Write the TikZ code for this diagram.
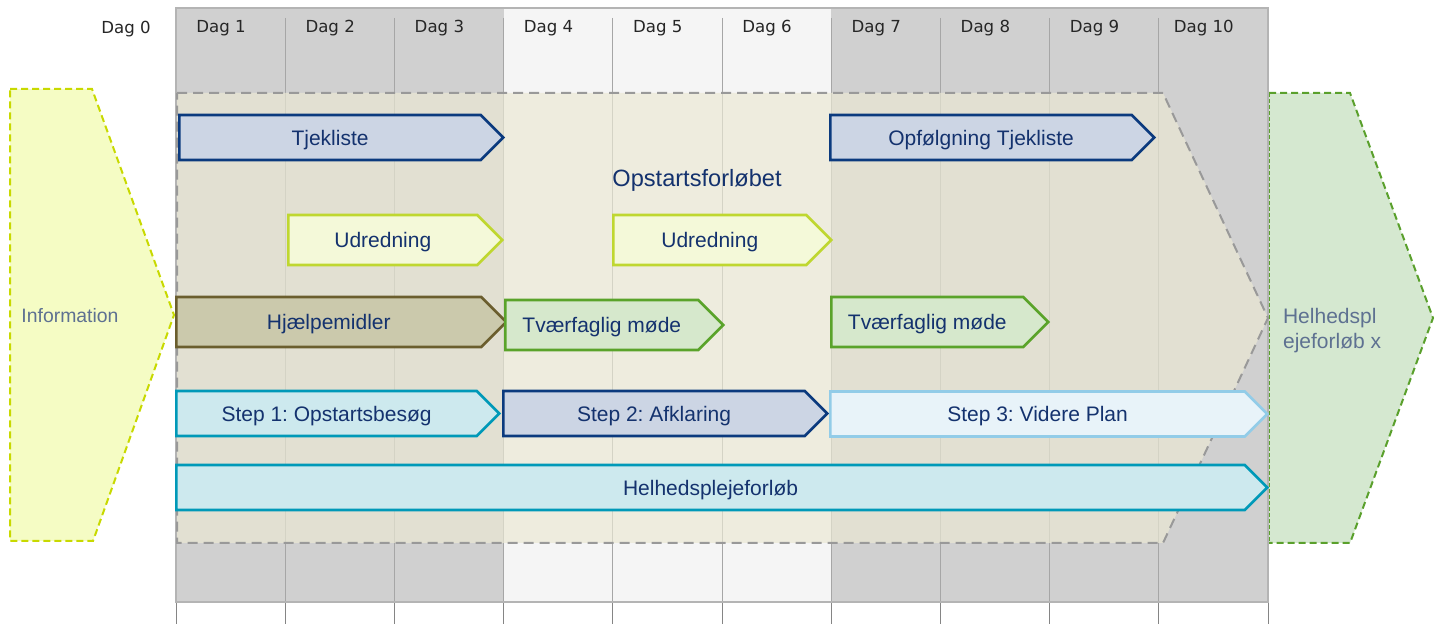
\documentclass[tikz,border=0pt]{standalone}
\usepackage{fontspec}
\setmainfont{Liberation Sans}
\newfontfamily\dagfont{DejaVu Sans}
\usetikzlibrary{shapes.symbols}
\frenchspacing

\definecolor{graakol}{HTML}{D0D0D0}
\definecolor{lyskol}{HTML}{F5F5F5}
\definecolor{ramme}{HTML}{B4B4B4}
\definecolor{skille}{HTML}{A6A6A6}
\definecolor{beige}{HTML}{EBE9D4}
\definecolor{streg}{HTML}{999999}
\definecolor{tekst}{HTML}{14326E}
\definecolor{graatekst}{HTML}{5E7191}
\definecolor{navy}{HTML}{0B3A7E}
\definecolor{navyfill}{HTML}{CCD5E4}
\definecolor{lime}{HTML}{BFD730}
\definecolor{limefill}{HTML}{F4F9D9}
\definecolor{oliven}{HTML}{6B5E2E}
\definecolor{olivenfill}{HTML}{CBC9AC}
\definecolor{groen}{HTML}{5AA32A}
\definecolor{groenfill}{HTML}{D6E8CC}
\definecolor{petrol}{HTML}{0099B8}
\definecolor{petrolfill}{HTML}{CDE9EE}
\definecolor{lysblaa}{HTML}{92CCE8}
\definecolor{lysblaafill}{HTML}{E8F3F9}
\definecolor{infogul}{HTML}{C8D900}
\definecolor{infofill}{HTML}{F5FCC4}
\definecolor{helgroen}{HTML}{5AA02C}
\definecolor{helfill}{HTML}{D5E8D0}

\tikzset{
  pil/.style={signal, signal to=east, signal pointer angle=90, draw,
    line width=1.3pt, inner sep=0pt, anchor=west, text=tekst,
    text height=9pt, text depth=1pt,
    font=\fontsize{10.5}{12}\selectfont},
  lav/.style={minimum height=22.5pt},
  hoej/.style={minimum height=25pt},
  blaapil/.style={pil, draw=navy, fill=navyfill},
  limepil/.style={pil, draw=lime, fill=limefill},
  olivenpil/.style={pil, draw=oliven, fill=olivenfill},
  groenpil/.style={pil, draw=groen, fill=groenfill},
  petrolpil/.style={pil, draw=petrol, fill=petrolfill},
  lysblaapil/.style={pil, draw=lysblaa, fill=lysblaafill},
  dag/.style={font=\dagfont\fontsize{8.3}{10}\selectfont, text=black!85},
}

\begin{document}
\begin{tikzpicture}[x=0.5pt, y=-0.5pt]
  \useasboundingbox (0,0) rectangle (1440,624);

  \foreach \i in {0,1,2,6,7,8,9}
    \fill[graakol] ({176+\i*109.2},8) rectangle ++(109.2,594);
  \foreach \i in {3,4,5}
    \fill[lyskol] ({176+\i*109.2},8) rectangle ++(109.2,594);
  \foreach \i in {1,...,9}
    \draw[skille, line width=0.5pt] ({176+\i*109.2},18) -- ({176+\i*109.2},602);
  \foreach \i in {0,...,10}
    \draw[skille!80!black, line width=0.5pt] ({176+\i*109.2},602) -- ({176+\i*109.2},624);
  \draw[ramme, line width=0.8pt] (176,8) rectangle (1268,602);

  \node[dag] (d0) at (126,29) {Dag 0};
  \foreach \i in {1,...,10}
    \node[dag] (d\i) at ({176+(\i-1)*109.2+45},28) {Dag \i};

  % opstartsforloebet
  \draw[streg, line width=1pt, dash pattern=on 5pt off 3pt, fill=beige, fill opacity=0.68]
    (177,93) -- (1163,93) -- (1268,318) -- (1163,543) -- (177,543) -- cycle;
  \node[text=tekst, font=\fontsize{11.8}{14}\selectfont] (opst) at (697,180) {Opstartsforløbet};

  % information
  \draw[infogul, line width=1pt, dash pattern=on 3.5pt off 2pt, fill=infofill]
    (10,89) -- (92,89) -- (174,315) -- (93,541) -- (10,541) -- cycle;
  \node[text=graatekst, font=\fontsize{9.7}{12}\selectfont] (info) at (70,316) {Information};

  % helhedsplejeforloeb x
  \fill[helfill] (1269,93) -- (1350,93) -- (1433,318) -- (1350,543) -- (1269,543) -- cycle;
  \draw[helgroen, line width=1pt, dash pattern=on 3.5pt off 2pt]
    (1269,93) -- (1350,93) -- (1433,318) -- (1350,543) -- (1269,543);
  \draw[helgroen, line width=0.3pt, dash pattern=on 2pt off 1pt] (1269,93) -- (1269,543);
  \node[text=graatekst, font=\fontsize{10.5}{12.5}\selectfont, align=left, anchor=west]
    (helx) at (1276,331) {Helhedspl\\ejeforløb x};

  \node[blaapil, lav, minimum width=162pt] (tj1) at (178,137.5) {Tjekliste};
  \node[blaapil, lav, minimum width=162pt] (tj2) at (829,137.5) {Opfølgning Tjekliste};

  \node[limepil, hoej, minimum width=107pt] (ud1) at (287,240) {Udredning};
  \node[limepil, hoej, minimum width=109pt] (ud2) at (612,240) {Udredning};

  \node[olivenpil, hoej, minimum width=165pt] (hj) at (175,322) {Hjælpemidler};
  \node[groenpil, hoej, minimum width=109pt] (tv1) at (504,325) {Tværfaglig møde};
  \node[groenpil, hoej, minimum width=108.5pt] (tv2) at (830,322) {Tværfaglig møde};

  \node[petrolpil, lav, minimum width=161.5pt] (s1) at (175,413.5) {Step 1: Opstartsbesøg};
  \node[blaapil, lav, minimum width=162pt] (s2) at (502,413.5) {Step 2: Afklaring};
  \node[lysblaapil, lav, minimum width=218.5pt] (s3) at (829,414) {Step 3: Videre Plan};

  \node[petrolpil, lav, minimum width=545.5pt] (hel) at (175,487.5) {Helhedsplejeforløb};
\end{tikzpicture}
\end{document}
